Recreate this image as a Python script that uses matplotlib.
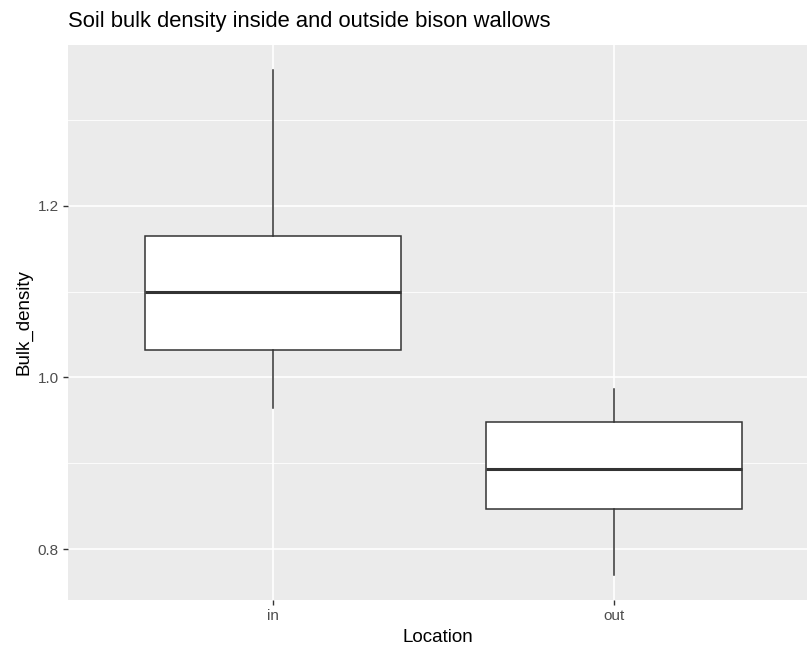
import matplotlib
matplotlib.use("Agg")
import matplotlib.pyplot as plt

locations = ["in", "out"]
whisker_low = [0.965, 0.770]
q1 = [1.032, 0.847]
medians = [1.100, 0.893]
q3 = [1.165, 0.948]
whisker_high = [1.358, 0.987]

plt.rcParams['font.family'] = ['Liberation Sans', 'DejaVu Sans']

stats = []
for i, name in enumerate(locations):
    stats.append({'label': name, 'whislo': whisker_low[i], 'q1': q1[i],
                  'med': medians[i], 'q3': q3[i], 'whishi': whisker_high[i],
                  'fliers': []})

fig = plt.figure(figsize=(8.07, 6.47), dpi=100)
ax = fig.add_axes([68/807, 47/647, 1 - 68/807, 555/647])
ax.set_facecolor('#EBEBEB')

ax.bxp(stats, positions=[1, 2], widths=0.75, patch_artist=True, showcaps=False,
       boxprops=dict(facecolor='white', edgecolor='#333333', linewidth=1.1),
       medianprops=dict(color='#333333', linewidth=2.2),
       whiskerprops=dict(color='#333333', linewidth=1.1), zorder=3)

ax.set_xlim(0.4, 2.565)
ax.set_ylim(0.741, 1.387)
ax.set_yticks([0.8, 1.0, 1.2])
ax.set_yticks([0.9, 1.1, 1.3], minor=True)
ax.set_xticks([1, 2])
ax.set_xticklabels(locations)
ax.yaxis.set_major_formatter(matplotlib.ticker.FormatStrFormatter('%.1f'))

ax.grid(True, which='major', color='white', linewidth=1.2, zorder=0)
ax.grid(True, which='minor', axis='y', color='white', linewidth=0.6, zorder=0)
ax.set_axisbelow(True)
for s in ax.spines.values():
    s.set_visible(False)
ax.tick_params(axis='both', which='major', length=3.5, width=1, color='#333333',
               labelcolor='#4D4D4D', labelsize=11, pad=3)
ax.tick_params(axis='y', which='minor', length=0)

ax.set_xlabel('Location', fontsize=13.5, color='black', labelpad=4)
ax.set_ylabel('Bulk_density', fontsize=13.5, color='black', labelpad=4)
fig.text(68/807, 1 - 21/647, 'Soil bulk density inside and outside bison wallows',
         fontsize=15.8, ha='left', va='center')

fig.savefig('out.png', dpi=100)
